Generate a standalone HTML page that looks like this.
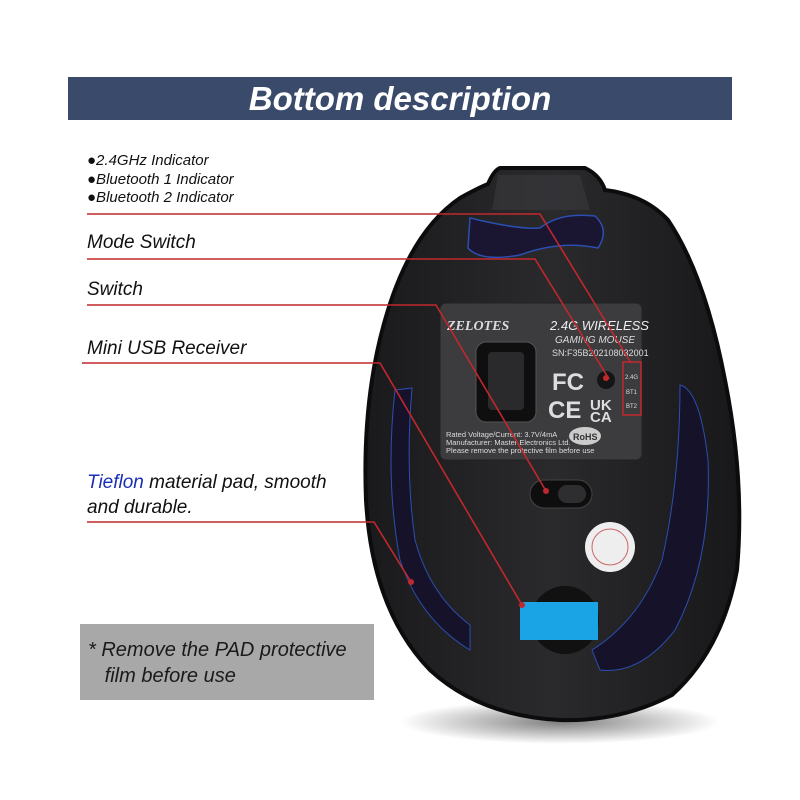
<!DOCTYPE html>
<html><head><meta charset="utf-8"><style>
body{margin:0;width:800px;height:800px;background:#fff;position:relative;overflow:hidden;font-family:"Liberation Sans",sans-serif}
.t{position:absolute;font-style:italic;color:#111;white-space:nowrap}
</style></head><body>
<svg width="800" height="800" style="position:absolute;left:0;top:0">
<defs>
<radialGradient id="sh" cx="50%" cy="50%" r="50%"><stop offset="0" stop-color="#000" stop-opacity=".5"/><stop offset="1" stop-color="#000" stop-opacity="0"/></radialGradient>
<linearGradient id="mb" x1="0" x2="1"><stop offset="0" stop-color="#1a1a1c"/><stop offset=".5" stop-color="#2a2a2d"/><stop offset="1" stop-color="#18181a"/></linearGradient>
</defs>
<ellipse cx="560" cy="722" rx="160" ry="22" fill="url(#sh)"/>
<path d="M500 168 L585 168 Q600 175 605 190 Q645 195 668 220 Q705 275 725 380 Q745 480 737 570 Q722 650 672 695 Q620 722 560 720 Q480 716 430 670 Q372 610 366 500 Q362 400 385 320 Q410 232 460 198 Q478 188 488 184 Q494 170 500 168Z" fill="url(#mb)" stroke="#0c0c0d" stroke-width="4"/>
<path d="M498 175 L580 175 L590 210 L492 210Z" fill="#3a3a3e" opacity=".6"/>
<path d="M470 218 Q520 230 540 228 Q560 212 595 216 Q610 230 598 248 Q560 240 520 255 Q480 262 468 248Z" fill="#1a1530" stroke="#2b4fb0" stroke-width="1.5"/>
<path d="M395 390 Q385 480 400 560 Q420 620 470 650 L470 625 Q430 595 415 540 Q405 470 412 388Z" fill="#16122a" stroke="#2b4fb0" stroke-width="1"/>
<path d="M680 385 Q700 390 708 460 Q712 560 675 630 Q640 675 600 670 L592 650 Q640 620 662 560 Q680 480 680 385Z" fill="#16122a" stroke="#2b4fb0" stroke-width="1"/>
<rect x="440" y="303" width="202" height="157" rx="6" fill="#3c3c3f" stroke="#222" />
<rect x="476" y="342" width="60" height="80" rx="10" fill="#0f0f10" stroke="#555"/>
<rect x="488" y="352" width="36" height="58" rx="4" fill="#2a2a2c"/>
<text x="447" y="330" font-family="Liberation Serif" font-weight="bold" font-style="italic" font-size="14" fill="#ddd">ZELOTES</text>
<text x="550" y="330" font-style="italic" font-size="13" fill="#eee">2.4G WIRELESS</text>
<text x="555" y="343" font-style="italic" font-size="10" fill="#ddd">GAMING MOUSE</text>
<text x="552" y="356" font-size="9" fill="#ddd">SN:F35B202108032001</text>
<text x="552" y="390" font-weight="bold" font-size="24" fill="#ddd">FC</text>
<text x="548" y="418" font-weight="bold" font-size="24" fill="#ddd">CE</text>
<text x="590" y="410" font-weight="bold" font-size="15" fill="#ddd">UK</text>
<text x="590" y="422" font-weight="bold" font-size="15" fill="#ddd">CA</text>
<circle cx="606" cy="380" r="9" fill="#151515"/><circle cx="606" cy="378" r="3" fill="#c0282d"/>
<rect x="623" y="362" width="18" height="53" fill="none" stroke="#c0282d" stroke-width="1.5"/>
<text x="625" y="379" font-size="6" fill="#ddd">2.4G</text><text x="626" y="394" font-size="6" fill="#ddd">BT1</text><text x="626" y="408" font-size="6" fill="#ddd">BT2</text>
<text x="446" y="437" font-size="7.5" fill="#ddd">Rated Voltage/Current: 3.7V/4mA</text>
<text x="446" y="445" font-size="7.5" fill="#ddd">Manufacturer: Master Electronics Ltd.</text>
<text x="446" y="453" font-size="7.5" fill="#ddd">Please remove the protective film before use</text>
<ellipse cx="585" cy="436" rx="16" ry="9" fill="#ccc"/><text x="573" y="440" font-size="9" font-weight="bold" fill="#333">RoHS</text>
<rect x="530" y="480" width="62" height="28" rx="14" fill="#0e0e0f" stroke="#444"/>
<rect x="558" y="485" width="28" height="18" rx="9" fill="#2e2e30"/>
<circle cx="610" cy="547" r="25" fill="#eee"/><circle cx="610" cy="547" r="18" fill="none" stroke="#c66" stroke-width="1"/>
<circle cx="565" cy="620" r="34" fill="#111"/>
<rect x="520" y="602" width="78" height="38" fill="#1aa4e6"/>
<g stroke="#c0282d" stroke-width="1.6" fill="none">
<polyline points="87,214 540,214 631,363"/>
<polyline points="87,259 535,259 609,379"/>
<polyline points="87,305 436,305 546,491"/>
<polyline points="82,363 380,363 522,605"/>
<polyline points="87,522 374,522 411,582"/>
</g>
<g fill="#c0282d"><circle cx="546" cy="491" r="3"/><circle cx="522" cy="605" r="3"/><circle cx="411" cy="582" r="3"/></g>
</svg>
<div style="position:absolute;left:68px;top:77px;width:664px;height:43px;background:#3a4a6b"></div>
<div class="t" style="left:68px;top:77px;width:664px;height:43px;line-height:43px;text-align:center;color:#fff;font-weight:bold;font-size:33px">Bottom description</div>
<div class="t" style="left:87px;top:152px;font-size:15px;line-height:18.5px">●2.4GHz Indicator<br>●Bluetooth 1 Indicator<br>●Bluetooth 2 Indicator</div>
<div class="t" style="left:87px;top:232px;font-size:19px">Mode Switch</div>
<div class="t" style="left:87px;top:279px;font-size:19px">Switch</div>
<div class="t" style="left:87px;top:338px;font-size:19px">Mini USB Receiver</div>
<div class="t" style="left:87px;top:470px;font-size:19px;line-height:25px"><span style="color:#1a2fb8">Tieflon</span> material pad, smooth<br>and durable.</div>
<div style="position:absolute;left:80px;top:624px;width:294px;height:76px;background:#a8a8a8"></div>
<div class="t" style="left:88px;top:637px;font-size:20px;line-height:26px;color:#1a1a1a">* Remove the PAD protective<br>&nbsp;&nbsp;&nbsp;film before use</div>
</body></html>
